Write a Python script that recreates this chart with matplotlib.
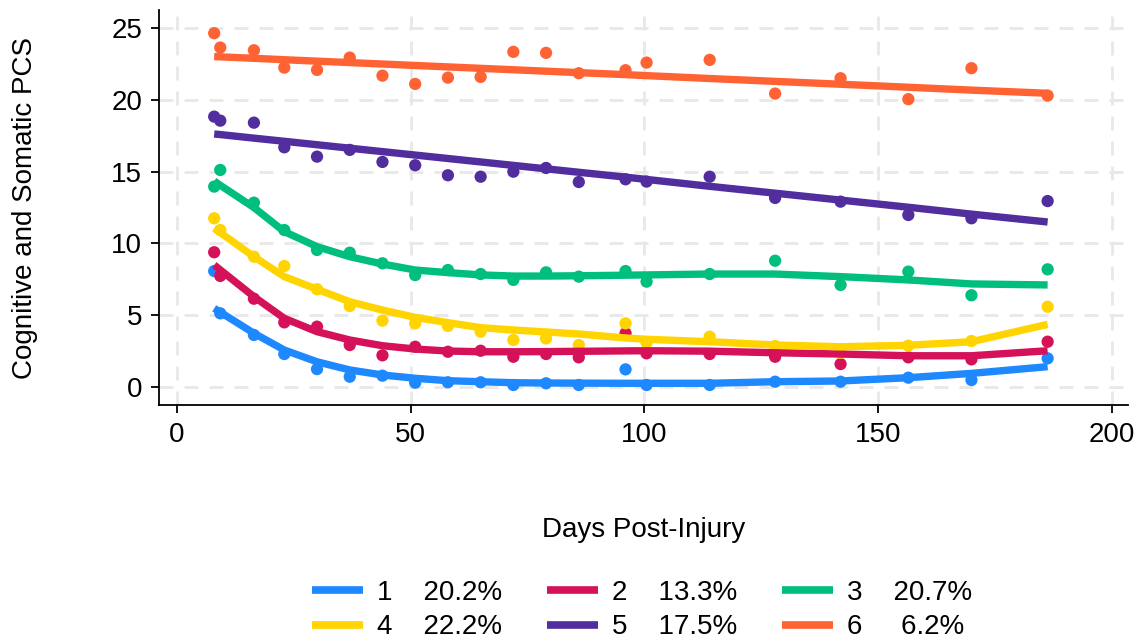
import matplotlib
matplotlib.use("Agg")
import matplotlib.pyplot as plt
from matplotlib.lines import Line2D

plt.rcParams['font.family'] = ['Liberation Sans', 'DejaVu Sans']

days = [8, 9.3, 16.5, 23, 30, 37, 44, 51, 58, 65, 72, 79, 86, 96, 100.5, 114, 128, 142, 156.5, 170, 186.3]

groups = ["1", "2", "3", "4", "5", "6"]
shares = ["20.2%", "13.3%", "20.7%", "22.2%", "17.5%", "6.2%"]
colors = ["#1E88FF", "#D41159", "#00BF7D", "#FFD400", "#512D9E", "#FF6233"]

# observed means
obs1 = [8.07, 5.12, 3.61, 2.28, 1.23, 0.70, 0.77, 0.28, 0.31, 0.31, 0.12, 0.24, 0.12, 1.21, 0.12, 0.12, 0.35, 0.35, 0.63, 0.47, 1.98]
obs2 = [9.38, 7.73, 6.14, 4.49, 4.19, 2.91, 2.19, 2.79, 2.44, 2.51, 2.09, 2.28, 2.05, 3.73, 2.33, 2.28, 2.09, 1.58, 2.05, 1.91, 3.14]
obs3 = [13.96, 15.12, 12.84, 10.93, 9.54, 9.35, 8.61, 7.79, 8.14, 7.86, 7.45, 7.98, 7.68, 8.07, 7.33, 7.86, 8.79, 7.10, 8.03, 6.38, 8.19]
obs4 = [11.75, 10.93, 9.07, 8.42, 6.80, 5.63, 4.61, 4.42, 4.24, 3.84, 3.26, 3.37, 2.91, 4.42, 3.07, 3.49, 2.84, 2.37, 2.86, 3.19, 5.58]
obs5 = [18.84, 18.56, 18.42, 16.70, 16.05, 16.52, 15.68, 15.45, 14.75, 14.65, 15.00, 15.26, 14.28, 14.47, 14.31, 14.65, 13.17, 12.91, 11.98, 11.75, 12.95]
obs6 = [24.66, 23.66, 23.47, 22.26, 22.10, 22.96, 21.70, 21.12, 21.56, 21.61, 23.36, 23.29, 21.87, 22.08, 22.61, 22.80, 20.45, 21.52, 20.06, 22.22, 20.31]

# fitted trajectories
fit1 = [5.47, 5.20, 3.73, 2.56, 1.74, 1.17, 0.82, 0.59, 0.42, 0.35, 0.28, 0.26, 0.25, 0.24, 0.24, 0.24, 0.35, 0.40, 0.63, 0.93, 1.40]
fit2 = [8.49, 8.15, 6.28, 4.77, 3.84, 3.26, 2.86, 2.63, 2.49, 2.44, 2.44, 2.45, 2.47, 2.50, 2.51, 2.48, 2.37, 2.28, 2.16, 2.16, 2.51]
fit3 = [14.35, 14.05, 12.50, 10.82, 9.77, 9.07, 8.56, 8.14, 7.96, 7.80, 7.72, 7.72, 7.74, 7.78, 7.80, 7.86, 7.86, 7.68, 7.45, 7.17, 7.10]
fit4 = [11.05, 10.75, 9.07, 7.68, 6.80, 5.93, 5.35, 4.84, 4.47, 4.12, 3.96, 3.82, 3.68, 3.40, 3.31, 3.14, 2.91, 2.79, 2.89, 3.14, 4.35]
fit5 = [17.63, 17.59, 17.34, 17.12, 16.88, 16.64, 16.40, 16.16, 15.92, 15.68, 15.44, 15.20, 14.96, 14.62, 14.46, 13.98, 13.50, 13.02, 12.52, 12.04, 11.49]
fit6 = [23.03, 23.01, 22.91, 22.81, 22.71, 22.61, 22.51, 22.41, 22.31, 22.21, 22.11, 22.01, 21.91, 21.77, 21.70, 21.50, 21.30, 21.10, 20.89, 20.69, 20.47]

obs = [obs1, obs2, obs3, obs4, obs5, obs6]
fits = [fit1, fit2, fit3, fit4, fit5, fit6]

fig = plt.figure(figsize=(11.4, 6.44), dpi=100)
ax = fig.add_axes([0.1395, 0.371, 0.85, 0.6135])

for o, f, c in zip(obs, fits, colors):
    ax.scatter(days, o, s=78, color=c, edgecolors='none', zorder=3)
    ax.plot(days, f, color=c, lw=5.3, zorder=4, solid_capstyle='butt')

ax.set_xlim(-3.8, 203.5)
ax.set_ylim(-1.28, 26.28)
ax.set_xticks([0, 50, 100, 150, 200])
ax.set_yticks([0, 5, 10, 15, 20, 25])
ax.grid(True, color='#e8e8e8', lw=2, linestyle=(0, (5, 4)), zorder=0)
ax.set_axisbelow(True)
for s in ['top', 'right']:
    ax.spines[s].set_visible(False)
for s in ['left', 'bottom']:
    ax.spines[s].set_linewidth(1.3)
ax.tick_params(axis='both', direction='out', length=6, width=1.3, labelsize=20, pad=6)
ax.set_xlabel("Days Post-Injury", fontsize=20, labelpad=50)
ax.set_ylabel("Cognitive and Somatic PCS", fontsize=20, labelpad=53)

handles = [Line2D([0], [0], color=c, lw=5.5, solid_capstyle='butt') for c in colors]
labels = [f"{g}    {p}" if len(p) == 5 else f"{g}     {p}" for g, p in zip(groups, shares)]
order = [0, 3, 1, 4, 2, 5]
fig.legend([handles[i] for i in order], [labels[i] for i in order],
           loc='lower center', bbox_to_anchor=(0.563, -0.033), ncol=3,
           frameon=False, fontsize=20, handlelength=1.85, columnspacing=1.6,
           handletextpad=0.5, labelspacing=0.3)

fig.savefig("out.png", dpi=100)
